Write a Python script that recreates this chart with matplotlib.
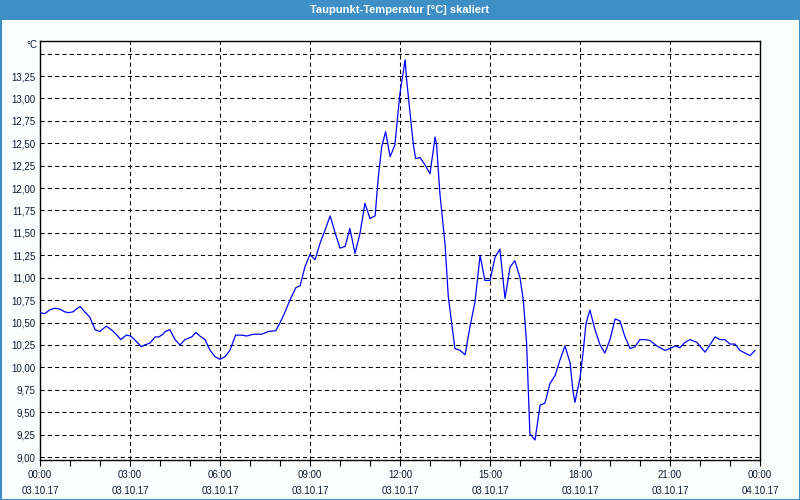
import numpy as np
import matplotlib
matplotlib.use('Agg')
import matplotlib.pyplot as plt
from matplotlib.ticker import MultipleLocator, FixedLocator

plt.rcParams['font.family'] = ['Liberation Sans', 'DejaVu Sans']

# Data: hours since 03.10.17 00:00, dew point in degC
hours = [0.00, 0.16, 0.32, 0.49, 0.66, 0.82, 0.96, 1.10, 1.21, 1.34, 1.49, 1.66,
         1.84, 1.99, 2.21, 2.38, 2.54, 2.69, 2.88, 3.02, 3.21, 3.38, 3.49, 3.66,
         3.84, 3.96, 4.10, 4.17, 4.33, 4.50, 4.67, 4.83, 5.06, 5.19, 5.33, 5.50,
         5.67, 5.83, 6.00, 6.17, 6.33, 6.52, 6.72, 6.89, 7.11, 7.39, 7.61, 7.86,
         8.02, 8.17, 8.33, 8.53, 8.67, 8.83, 9.00, 9.17, 9.33, 9.50, 9.67, 9.83,
         10.00, 10.17, 10.33, 10.50, 10.67, 10.83, 11.00, 11.17, 11.28, 11.39,
         11.52, 11.67, 11.83, 11.91, 12.00, 12.17, 12.22, 12.44, 12.52, 12.67,
         12.83, 13.00, 13.17, 13.22, 13.33, 13.50, 13.61, 13.83, 14.00, 14.17,
         14.33, 14.50, 14.67, 14.83, 15.00, 15.17, 15.33, 15.50, 15.67, 15.83,
         16.00, 16.11, 16.22, 16.33, 16.50, 16.67, 16.83, 17.00, 17.17, 17.33,
         17.50, 17.67, 17.76, 17.83, 18.00, 18.11, 18.20, 18.33, 18.50, 18.67,
         18.83, 19.00, 19.17, 19.33, 19.50, 19.67, 19.83, 20.00, 20.17, 20.33,
         20.56, 20.83, 21.00, 21.17, 21.33, 21.50, 21.67, 21.89, 22.17, 22.33,
         22.50, 22.67, 22.83, 23.00, 23.17, 23.33, 23.50, 23.67, 23.83]
dewpoint = [10.61, 10.60, 10.64, 10.66, 10.65, 10.62, 10.61, 10.62, 10.65, 10.68, 10.62, 10.56,
            10.42, 10.40, 10.46, 10.42, 10.37, 10.31, 10.36, 10.35, 10.29, 10.23, 10.25, 10.27,
            10.34, 10.34, 10.37, 10.40, 10.42, 10.31, 10.25, 10.31, 10.34, 10.39, 10.35, 10.31,
            10.19, 10.12, 10.09, 10.12, 10.19, 10.36, 10.36, 10.35, 10.37, 10.37, 10.40, 10.41,
            10.51, 10.62, 10.75, 10.89, 10.91, 11.12, 11.26, 11.20, 11.38, 11.53, 11.69, 11.51,
            11.33, 11.35, 11.55, 11.27, 11.50, 11.83, 11.66, 11.69, 12.13, 12.46,
            12.63, 12.35, 12.48, 12.76, 13.06, 13.43, 13.21, 12.50, 12.33, 12.34,
            12.26, 12.16, 12.57, 12.48, 11.94, 11.38, 10.79, 10.21, 10.19, 10.14,
            10.45, 10.73, 11.25, 10.97, 10.97, 11.23, 11.32, 10.77, 11.12, 11.19,
            11.00, 10.75, 10.27, 9.26, 9.19, 9.58, 9.60, 9.82, 9.91, 10.08,
            10.24, 10.05, 9.75, 9.61, 9.88, 10.19, 10.49, 10.64, 10.42, 10.25,
            10.16, 10.31, 10.54, 10.52, 10.34, 10.21, 10.23, 10.31, 10.31, 10.30,
            10.24, 10.19, 10.21, 10.24, 10.22, 10.28, 10.31, 10.28, 10.17, 10.25,
            10.34, 10.31, 10.31, 10.26, 10.26, 10.19, 10.16, 10.13, 10.19]

tick_hours = [0, 3, 6, 9, 12, 15, 18, 21, 24]
tick_labels = ['00:00\n03.10.17', '03:00\n03.10.17', '06:00\n03.10.17', '09:00\n03.10.17',
               '12:00\n03.10.17', '15:00\n03.10.17', '18:00\n03.10.17', '21:00\n03.10.17',
               '00:00\n04.10.17']
y_ticks = np.arange(9.0, 13.51, 0.25)
title = 'Taupunkt-Temperatur [°C] skaliert'

fig = plt.figure(figsize=(8, 5), dpi=100, facecolor='#fcfefe')

# title bar and window frame
fig.patches.append(plt.Rectangle((0, 1 - 20 / 500), 1, 20 / 500, transform=fig.transFigure,
                                 facecolor='#3d8fc6', edgecolor='none', zorder=0))
fig.patches.append(plt.Rectangle((0.5 / 800, 0.5 / 500), 1 - 1 / 800, 1 - 1 / 500,
                                 transform=fig.transFigure, facecolor='none',
                                 edgecolor='#3d8fc6', lw=1.5, zorder=1))
fig.text(0.5, 1 - 10 / 500, title, color='white', fontsize=8, fontweight='bold',
         ha='center', va='center')

ax = fig.add_axes([40 / 800, 40 / 500, 720 / 800, 419.3 / 500])
ax.set_facecolor('white')
ax.plot(hours, dewpoint, color='#0000ff', lw=0.9, zorder=3)

ax.set_xlim(0, 24)
ax.set_ylim(8.967, 13.644)

ax.xaxis.set_major_locator(FixedLocator(tick_hours))
ax.set_xticklabels(tick_labels, linespacing=1.75)
ax.xaxis.set_minor_locator(MultipleLocator(1))
# 13,50 gridline is drawn but left unlabeled in the original
ax.set_yticks(y_ticks)
ax.set_yticklabels([('%.2f' % v).replace('.', ',') if v < 13.4 else '' for v in y_ticks])

ax.tick_params(axis='x', which='both', direction='out', length=4, width=0.8, color='black',
               labelsize=7, labelcolor='#0b1a33', pad=3)
ax.tick_params(axis='y', which='both', length=0, labelsize=7, labelcolor='#0b1a33', pad=3)

ax.grid(True, which='major', color='black', linestyle=(0, (4, 3)), lw=0.75)
for s in ax.spines.values():
    s.set_color('black')
    s.set_linewidth(1.0)

fig.text(37 / 800, 1 - 45 / 500, '°C', fontsize=7, color='#0b1a33', ha='right', va='center')

fig.savefig('out.png', dpi=100, facecolor=fig.get_facecolor())
